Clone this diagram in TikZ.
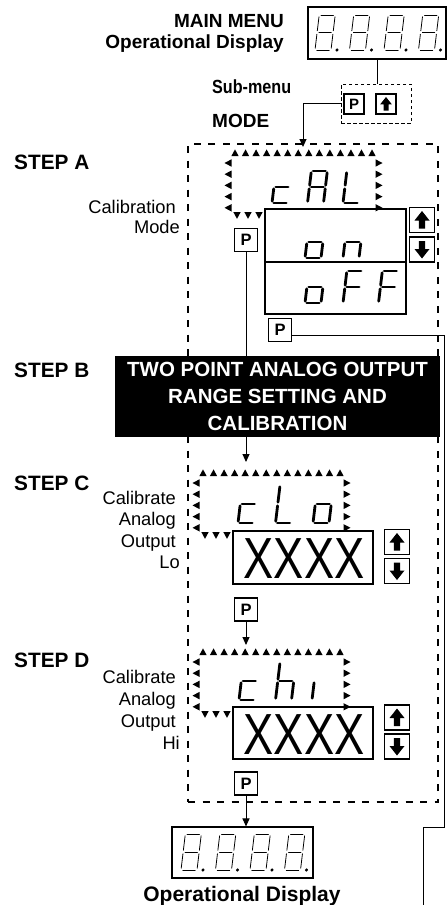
\documentclass[tikz,border=0pt]{standalone}
\usepackage{fontspec}
\setmainfont{Liberation Sans}
\usetikzlibrary{arrows.meta,calc}

\tikzset{
  dispbox/.style={draw, line width=1.1pt, inner sep=0pt},
  subdash/.style={draw, line width=1pt, dash pattern=on 3.5pt off 2.5pt, inner sep=0pt},
  bigdash/.style={draw, line width=1.1pt, dash pattern=on 7pt off 7.5pt, inner sep=0pt},
  pkey/.style={draw, line width=1.1pt, inner sep=0pt, minimum width=23pt, minimum height=23pt, font=\fontsize{16.5}{16.5}\selectfont\bfseries},
  pkeysm/.style={pkey, minimum width=20pt, minimum height=20pt, font=\fontsize{15}{15}\selectfont\bfseries},
  akey/.style={draw, line width=1.1pt, inner sep=0pt, minimum size=25pt},
  akeysm/.style={akey, minimum size=20pt},
  conn/.style={line width=1pt},
  arr/.style={conn, -{Triangle[width=7pt,length=8pt]}},
  segline/.style={line width=2.8pt, line cap=round},
  hollowseg/.style={line width=0.8pt, double, double distance=1.5pt, line cap=round},
  lab/.style={font=\fontsize{18.3}{20}\selectfont, anchor=base east, inner sep=0pt},
  blab/.style={font=\fontsize{20.8}{22}\selectfont\bfseries, anchor=base west, inner sep=0pt},
  tlab/.style={font=\fontsize{19}{21}\selectfont\bfseries, inner sep=0pt},
  xtext/.style={font=\fontsize{58}{58}\selectfont, inner sep=0pt},
}

\def\dG{1.8}
\newcommand\SgA{\draw ({\dG},{-\dH}) -- ({\dW-\dG},{-\dH});}
\newcommand\SgB{\draw ({\dW},{-\dH+\dG}) -- ({\dW},{-\dH/2-\dG});}
\newcommand\SgC{\draw ({\dW},{-\dH/2+\dG}) -- ({\dW},{-\dG});}
\newcommand\SgD{\draw ({\dG},0) -- ({\dW-\dG},0);}
\newcommand\SgE{\draw (0,{-\dG}) -- (0,{-\dH/2+\dG});}
\newcommand\SgF{\draw (0,{-\dH/2-\dG}) -- (0,{-\dH+\dG});}
\newcommand\SgG{\draw ({\dG},{-\dH/2}) -- ({\dW-\dG},{-\dH/2});}
\newcommand\SgP{\fill ({\dW+6},0) circle (1.7);}
\newcommand\dig[5]{\begin{scope}[shift={(#1,#2)}, xslant=0.12]\def\dW{#3}\def\dH{#4}#5\end{scope}}
\newcommand\eight{\SgA\SgB\SgC\SgD\SgE\SgF\SgG\SgP}

\newcommand\flashbox[2]{%
  \foreach \i in {0,...,13}{\fill ({#1+7+\i*10.54-3.7},{#2+3.2}) -- ++(7.4,0) -- ++(-3.7,-6.8) -- cycle;}
  \foreach \j in {0,...,4}{%
    \fill ({#1-3.5},{#2+10+\j*11.2}) -- ++(7,-3.7) -- ++(0,7.4) -- cycle;
    \fill ({#1+151+3.5},{#2+10+\j*11.2}) -- ++(-7,-3.7) -- ++(0,7.4) -- cycle;}
  \foreach \k in {0,...,2}{\fill ({#1+9+\k*11-3.7},{#2+59}) -- ++(7.4,0) -- ++(-3.7,6.8) -- cycle;}
}
\newcommand\uparr[2]{\fill[shift={(#1.center)}, scale=#2] (0,-9) -- (7.5,0.5) -- (3.2,0.5) -- (3.2,8.5) -- (-3.2,8.5) -- (-3.2,0.5) -- (-7.5,0.5) -- cycle;}
\newcommand\dnarr[2]{\fill[shift={(#1.center)}, scale=#2] (0,9) -- (7.5,-0.5) -- (3.2,-0.5) -- (3.2,-8.5) -- (-3.2,-8.5) -- (-3.2,-0.5) -- (-7.5,-0.5) -- cycle;}

\begin{document}
\begin{tikzpicture}[x=1pt,y=-1pt]
\useasboundingbox (0,0) rectangle (447,905);

% ---- top
\node[dispbox, minimum width=138pt, minimum height=52pt] (topdisp) at (377,33) {};
\node[tlab, anchor=base east] (mm) at (284,27) {MAIN MENU};
\node[tlab, anchor=base east] (od1) at (284,48) {Operational Display};
\node[subdash, minimum width=70pt, minimum height=39pt] (subbox) at (376,103.5) {};
\node[pkeysm] (ptop) at (354,104) {P};
\node[akeysm] (utop) at (386,104) {};
\uparr{utop}{0.78}
\node[tlab, anchor=base west] (sm) at (212,93) {\scalebox{0.85}[1]{Sub-menu}};
\node[tlab, anchor=base west] (md) at (212,127) {MODE};

% ---- big dashed frame
\node[bigdash, minimum width=250pt, minimum height=658pt] (bigbox) at (313,473) {};

% ---- step A
\node[blab] (sa) at (14,169) {STEP A};
\node[lab] (la1) at (176,213) {Calibration};
\node[lab] (la2) at (180,233) {Mode};
\flashbox{228}{153}
\node[dispbox, minimum width=141pt, minimum height=53pt] (onbox) at (335.5,235.5) {};
\node[dispbox, minimum width=141pt, minimum height=52pt] (offbox) at (335.5,288) {};
\node[akey] (upA) at (422,220) {};
\node[akey] (dnA) at (422,249.5) {};
\uparr{upA}{1}
\dnarr{dnA}{1}
\node[pkey] (pA1) at (246,240) {P};
\node[pkey] (pA2) at (280,330) {P};

% ---- step C
\node[blab] (sc) at (14,490) {STEP C};
\node[lab] (lc1) at (176,504) {Calibrate};
\node[lab] (lc2) at (176,525) {Analog};
\node[lab] (lc3) at (176,547) {Output};
\node[lab] (lc4) at (180,568) {Lo};
\flashbox{196}{473}
\node[dispbox, minimum width=140pt, minimum height=53pt] (xC) at (303,557.5) {};
\node[xtext] (xCt) at (304,559) {\scalebox{0.78}[1]{XXXX}};
\node[akey] (upC) at (397,542) {};
\node[akey] (dnC) at (397,571) {};
\uparr{upC}{1}
\dnarr{dnC}{1}
\node[pkey] (pC) at (246,609.5) {P};

% ---- step D
\node[blab] (sd) at (14,667) {STEP D};
\node[lab] (ld1) at (176,683) {Calibrate};
\node[lab] (ld2) at (176,705) {Analog};
\node[lab] (ld3) at (176,727) {Output};
\node[lab] (ld4) at (180,749) {Hi};
\flashbox{196}{652}
\node[dispbox, minimum width=140pt, minimum height=52pt] (xD) at (303,733) {};
\node[xtext] (xDt) at (304,735) {\scalebox{0.78}[1]{XXXX}};
\node[akey] (upD) at (397,717.5) {};
\node[akey] (dnD) at (397,746.5) {};
\uparr{upD}{1}
\dnarr{dnD}{1}
\node[pkey] (pD) at (246,783.5) {P};

% ---- bottom display
\node[dispbox, minimum width=141pt, minimum height=51pt] (botdisp) at (242.5,852.5) {};
\node[font=\fontsize{21}{23}\selectfont\bfseries, anchor=base, inner sep=0pt] (od2) at (242,901) {Operational Display};

% ---- coordinates
\coordinate (aTop) at (303,147);
\coordinate (cTop) at (246,462);
\coordinate (dTop) at (246,645);
\coordinate (retEnd) at (423,905);

% ---- connectors
\draw[conn] (topdisp.south) -- (topdisp.south |- subbox.north);
\draw[arr] (subbox.west) -| (aTop);
\draw[arr] (pA1.south) -- (cTop);
\draw[arr] (pC.south) -- (dTop);
\draw[arr] (pD.south) -- (pD.south |- botdisp.north);
\draw[conn] ([yshift=-5pt]pA2.east) -| (444,827) -| (retEnd);

% ---- step B (drawn over the line)
\node[blab] (sb) at (14,377) {STEP B};
\node[fill=black, text=white, minimum width=325pt, minimum height=81pt, align=center, inner sep=0pt,
      font=\fontsize{20.5}{26.7}\selectfont\bfseries] (stepB) at (277.5,396.5)
      {TWO POINT ANALOG OUTPUT\\RANGE SETTING AND\\CALIBRATION};

% ---- seven-segment readouts
\begin{scope}[segline]
  \dig{272}{203}{16}{32}{\SgD\SgE\SgG}
  \dig{307.5}{203}{16}{32}{\SgA\SgB\SgC\SgE\SgF\SgG}
  \dig{343}{203}{16}{32}{\SgD\SgE\SgF}
  \dig{305}{258}{16}{32}{\SgC\SgD\SgE\SgG}
  \dig{343}{258}{16}{32}{\SgC\SgE\SgG}
  \dig{305}{303}{16}{32}{\SgC\SgD\SgE\SgG}
  \dig{343}{303}{16}{32}{\SgA\SgE\SgF\SgG}
  \dig{378.5}{303}{16}{32}{\SgA\SgE\SgF\SgG}
  \dig{238}{523}{16}{38}{\SgD\SgE\SgG}
  \dig{275.5}{523}{16}{38}{\SgD\SgE\SgF}
  \dig{313}{523}{16}{38}{\SgC\SgD\SgE\SgG}
  \dig{239}{700}{16}{38}{\SgD\SgE\SgG}
  \dig{275.5}{700}{16}{38}{\SgC\SgE\SgF\SgG}
  \dig{312}{700}{16}{38}{\SgE}
\end{scope}
\begin{scope}[hollowseg]
  \foreach \p in {315,349.5,384,418.5}{\dig{\p}{50}{16}{35}{\eight}}
  \foreach \p in {181,215.5,250,284.5}{\dig{\p}{870}{16}{36}{\eight}}
\end{scope}
\end{tikzpicture}
\end{document}
